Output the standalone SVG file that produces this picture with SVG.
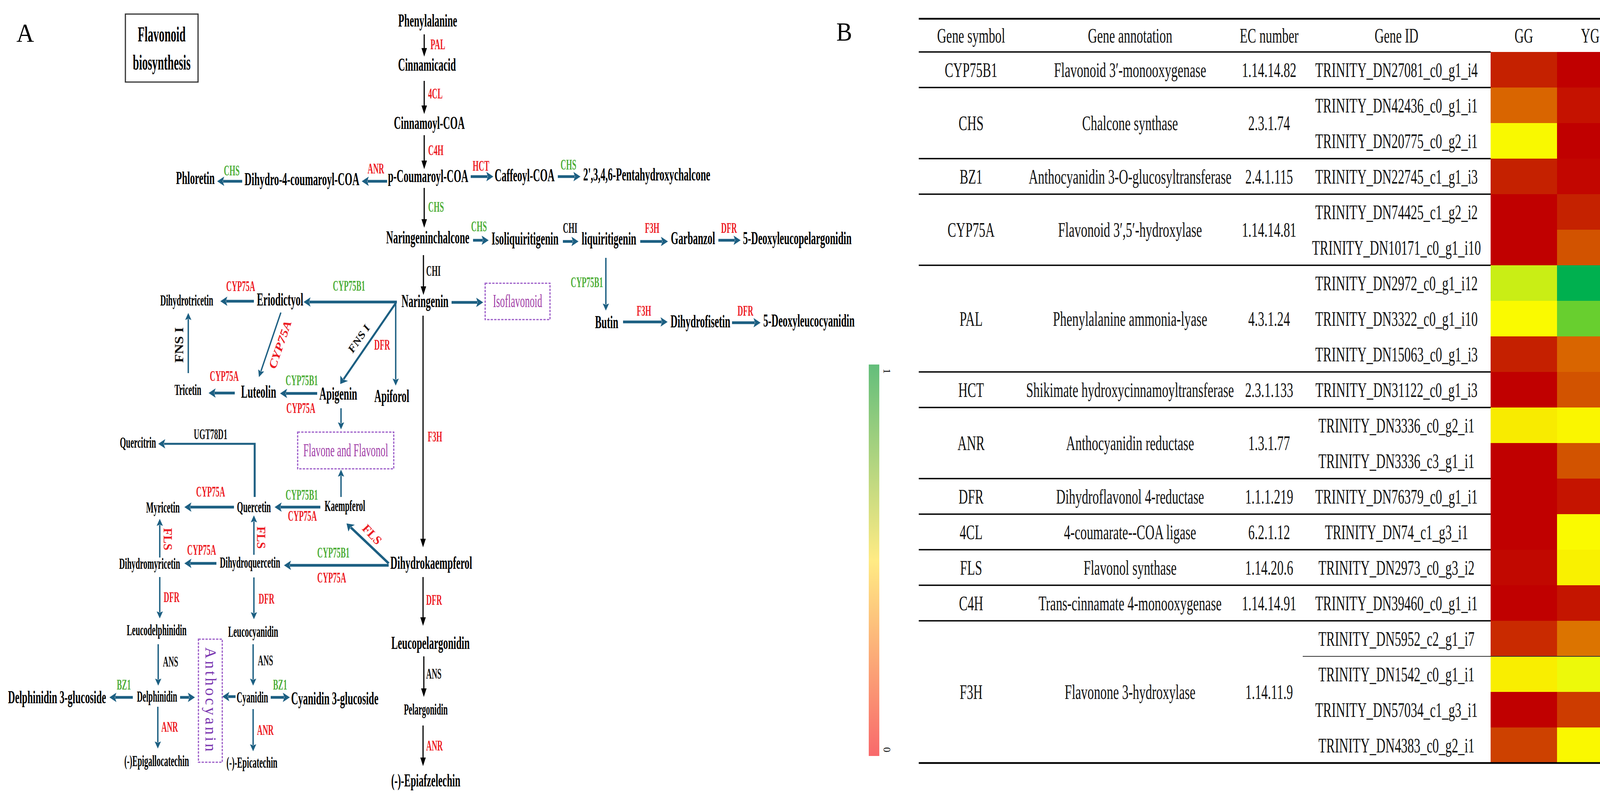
<svg xmlns="http://www.w3.org/2000/svg" width="4179" height="2040" viewBox="0 0 4179 2040">
<style>
text{font-family:"Liberation Serif","Times New Roman",serif}
.cL{font-size:47px;font-weight:bold;text-anchor:middle}
.cS{font-size:40px;font-weight:bold;text-anchor:middle}
.st{text-anchor:start}
.e{font-size:37px;font-weight:bold}
.r{fill:#ed1c24}
.g{fill:#4dae38}
.k{fill:#111}
.pu{font-size:47px;fill:#a03ca6;text-anchor:middle}
.tb{font-size:53px;fill:#111;text-anchor:middle}
.pl{font-size:68px}
.lb{stroke:#000;stroke-width:3;fill:none;marker-end:url(#mb)}
.lt{stroke:#1c5f82;stroke-width:7;fill:none;marker-end:url(#mt)}
.ln{stroke:#1c5f82;stroke-width:3.5;fill:none;marker-end:url(#mn)}
.bx{fill:none;stroke:#9b5cc8;stroke-width:3;stroke-dasharray:6 3}
.tl{stroke:#000;stroke-width:3.5}
</style>
<defs>
<marker id="mb" markerUnits="userSpaceOnUse" markerWidth="22" markerHeight="14" refX="2" refY="7" orient="auto"><path d="M0,0 L22,7 L0,14 Z" fill="#000"/></marker>
<marker id="mt" markerUnits="userSpaceOnUse" markerWidth="18" markerHeight="24" refX="3" refY="12" orient="auto"><path d="M0,0 L18,12 L0,24 L4,12 Z" fill="#1c5f82"/></marker>
<marker id="mn" markerUnits="userSpaceOnUse" markerWidth="18" markerHeight="16" refX="2" refY="8" orient="auto"><path d="M0,0 L18,8 L0,16 L3,8 Z" fill="#1c5f82"/></marker>
<linearGradient id="lg" x1="0" y1="0" x2="0" y2="1"><stop offset="0" stop-color="#63BE7B"/><stop offset="0.5" stop-color="#FFEB84"/><stop offset="1" stop-color="#F8696B"/></linearGradient>
</defs>
<rect width="4179" height="2040" fill="#fff"/>

<!-- Panel A -->
<text class="pl" transform="translate(42,107) scale(.92,1)">A</text>
<g id="title">
<rect x="321" y="36" width="186" height="174" fill="none" stroke="#333" stroke-width="3"/>
<text style="font-size:54px;font-weight:bold;text-anchor:middle" transform="translate(414,106) scale(.53,1)">Flavonoid</text>
<text style="font-size:54px;font-weight:bold;text-anchor:middle" transform="translate(414,178) scale(.53,1)">biosynthesis</text>
</g>

<g id="connectors">
<line class="lb" x1="1086" y1="88" x2="1086" y2="125"/>
<line class="lb" x1="1086" y1="207" x2="1086" y2="272"/>
<line class="lb" x1="1086" y1="346" x2="1086" y2="413"/>
<line class="lb" x1="1086" y1="481" x2="1086" y2="563"/>
<line class="lb" x1="1084" y1="653" x2="1084" y2="735"/>
<line class="lb" x1="1083" y1="808" x2="1083" y2="1381"/>
<line class="lb" x1="1083" y1="1477" x2="1083" y2="1582"/>
<line class="lb" x1="1085" y1="1680" x2="1085" y2="1764"/>
<line class="lb" x1="1083" y1="1857" x2="1083" y2="1941"/>

<line class="lt" x1="991" y1="464" x2="941" y2="464"/>
<line class="lt" x1="620" y1="464" x2="571" y2="464"/>
<line class="lt" x1="1205" y1="452" x2="1248" y2="452"/>
<line class="lt" x1="1428" y1="452" x2="1471" y2="452"/>
<line class="lt" x1="1211" y1="615" x2="1236" y2="615"/>
<line class="lt" x1="1441" y1="618" x2="1466" y2="618"/>
<line class="lt" x1="1639" y1="618" x2="1695" y2="618"/>
<line class="lt" x1="1839" y1="615" x2="1881" y2="615"/>
<line class="lt" x1="1156" y1="774" x2="1222" y2="774"/>
<line class="lt" x1="1595" y1="824" x2="1694" y2="824"/>
<line class="lt" x1="1874" y1="826" x2="1932" y2="826"/>
<line class="lt" x1="1016" y1="773" x2="792" y2="773"/>
<line class="lt" x1="650" y1="771" x2="579" y2="771"/>
<line class="lt" x1="812" y1="1007" x2="732" y2="1007"/>
<line class="lt" x1="601" y1="1006" x2="549" y2="1006"/>
<line class="lt" x1="820" y1="1298" x2="718" y2="1298"/>
<line class="lt" x1="599" y1="1298" x2="487" y2="1298"/>
<line class="lt" x1="995" y1="1447" x2="742" y2="1447"/>
<line class="lt" x1="554" y1="1442" x2="487" y2="1442"/>
<line class="lt" x1="340" y1="1785" x2="295" y2="1785"/>
<line class="lt" x1="461" y1="1785" x2="484" y2="1785"/>
<line class="lt" x1="603" y1="1783" x2="584" y2="1783"/>
<line class="lt" x1="693" y1="1785" x2="727" y2="1785"/>
<path class="lt" style="stroke-width:5" d="M652,1272 V1136 H420"/>
<line class="lt" style="stroke-width:5" x1="1013" y1="776" x2="879.5" y2="970.6"/>
<line class="lt" style="stroke-width:6" x1="995" y1="1442" x2="898" y2="1350"/>

<line class="ln" x1="1551" y1="660" x2="1551" y2="779"/>
<line class="ln" x1="1013" y1="775" x2="1013" y2="971"/>
<line class="ln" x1="482" y1="955" x2="482" y2="817"/>
<line class="ln" x1="719" y1="800" x2="668" y2="950"/>
<line class="ln" x1="873" y1="1045" x2="873" y2="1083"/>
<line class="ln" x1="873" y1="1272" x2="873" y2="1218"/>
<line class="ln" x1="409" y1="1427" x2="409" y2="1344"/>
<line class="ln" x1="650" y1="1420" x2="650" y2="1335"/>
<line class="ln" x1="409" y1="1477" x2="409" y2="1567"/>
<line class="ln" x1="650" y1="1478" x2="650" y2="1569"/>
<line class="ln" x1="405" y1="1649" x2="405" y2="1739"/>
<line class="ln" x1="648" y1="1649" x2="648" y2="1739"/>
<line class="ln" x1="404" y1="1809" x2="404" y2="1900"/>
<line class="ln" x1="648" y1="1815" x2="648" y2="1907"/>
</g>

<g id="edge-labels">
<text class="e r" transform="translate(1102,126) scale(.53,1)">PAL</text>
<text class="e r" transform="translate(1096,252) scale(.53,1)">4CL</text>
<text class="e r" transform="translate(1096,397) scale(.53,1)">C4H</text>
<text class="e r" transform="translate(941,444) scale(.53,1)">ANR</text>
<text class="e g" transform="translate(573,449) scale(.53,1)">CHS</text>
<text class="e r" transform="translate(1210,437) scale(.53,1)">HCT</text>
<text class="e g" transform="translate(1435,434) scale(.53,1)">CHS</text>
<text class="e g" transform="translate(1096,542) scale(.53,1)">CHS</text>
<text class="e g" transform="translate(1206,592) scale(.53,1)">CHS</text>
<text class="e k" transform="translate(1441,596) scale(.53,1)">CHI</text>
<text class="e r" transform="translate(1651,596) scale(.53,1)">F3H</text>
<text class="e r" transform="translate(1846,596) scale(.53,1)">DFR</text>
<text class="e k" transform="translate(1091,706) scale(.53,1)">CHI</text>
<text class="e g" transform="translate(1461,735) scale(.53,1)">CYP75B1</text>
<text class="e r" transform="translate(1630,808) scale(.53,1)">F3H</text>
<text class="e r" transform="translate(1888,808) scale(.53,1)">DFR</text>
<text class="e r" transform="translate(1095,1130) scale(.53,1)">F3H</text>
<text class="e g" transform="translate(852,744) scale(.53,1)">CYP75B1</text>
<text class="e r" transform="translate(579,745) scale(.53,1)">CYP75A</text>
<text class="e r" transform="translate(958,895) scale(.53,1)">DFR</text>
<text class="e r" transform="translate(537,975) scale(.53,1)">CYP75A</text>
<text class="e g" transform="translate(731,986) scale(.53,1)">CYP75B1</text>
<text class="e r" transform="translate(733,1057) scale(.53,1)">CYP75A</text>
<text class="e k" transform="translate(496,1124) scale(.53,1)">UGT78D1</text>
<text class="e r" transform="translate(502,1271) scale(.53,1)">CYP75A</text>
<text class="e g" transform="translate(731,1279) scale(.53,1)">CYP75B1</text>
<text class="e r" transform="translate(737,1333) scale(.53,1)">CYP75A</text>
<text class="e r" transform="translate(479,1420) scale(.53,1)">CYP75A</text>
<text class="e g" transform="translate(812,1427) scale(.53,1)">CYP75B1</text>
<text class="e r" transform="translate(812,1491) scale(.53,1)">CYP75A</text>
<text class="e r" transform="translate(419,1541) scale(.53,1)">DFR</text>
<text class="e r" transform="translate(662,1545) scale(.53,1)">DFR</text>
<text class="e k" transform="translate(417,1706) scale(.53,1)">ANS</text>
<text class="e k" transform="translate(660,1703) scale(.53,1)">ANS</text>
<text class="e g" transform="translate(299,1765) scale(.53,1)">BZ1</text>
<text class="e g" transform="translate(699,1765) scale(.53,1)">BZ1</text>
<text class="e r" transform="translate(413,1873) scale(.53,1)">ANR</text>
<text class="e r" transform="translate(658,1881) scale(.53,1)">ANR</text>
<text class="e r" transform="translate(1091,1548) scale(.53,1)">DFR</text>
<text class="e k" transform="translate(1091,1737) scale(.53,1)">ANS</text>
<text class="e r" transform="translate(1091,1921) scale(.53,1)">ANR</text>
<text class="e k" style="font-size:36px;text-anchor:middle" transform="translate(469,883) rotate(-90) scale(1,.85)">FNS I</text>
<text class="e r" style="font-size:36px;font-style:italic;text-anchor:middle" transform="translate(726,885) rotate(-71) scale(1,.8)">CYP75A</text>
<text class="e k" style="font-size:31px;font-style:italic;text-anchor:middle" transform="translate(926,872) rotate(-55.5) scale(1,.85)">FNS I</text>
<text class="e r" style="font-size:31px;text-anchor:middle" transform="translate(419,1380) rotate(90)">FLS</text>
<text class="e r" style="font-size:31px;text-anchor:middle" transform="translate(658,1376) rotate(90)">FLS</text>
<text class="e r" style="font-size:31px;text-anchor:middle" transform="translate(945,1375) rotate(47)">FLS</text>
</g>

<g id="n-phenylalanine"><text class="cL" transform="translate(1095,68) scale(.53,1)">Phenylalanine</text></g>
<g id="n-cinnamicacid"><text class="cL" transform="translate(1093,181) scale(.53,1)">Cinnamicacid</text></g>
<g id="n-cinnamoylcoa"><text class="cL" transform="translate(1099,330) scale(.53,1)">Cinnamoyl-COA</text></g>
<g id="n-pcoumaroylcoa"><text class="cL" transform="translate(1096,466) scale(.53,1)">p-Coumaroyl-COA</text></g>
<g id="n-dihydro4coumaroylcoa"><text class="cL" transform="translate(773,474) scale(.53,1)">Dihydro-4-coumaroyl-COA</text></g>
<g id="n-phloretin"><text class="cL" transform="translate(500,471) scale(.53,1)">Phloretin</text></g>
<g id="n-caffeoylcoa"><text class="cL" transform="translate(1343,464) scale(.53,1)">Caffeoyl-COA</text></g>
<g id="n-pentahydroxychalcone"><text class="cL st" transform="translate(1493,462) scale(.53,1)">2',3,4,6-Pentahydroxychalcone</text></g>
<g id="n-naringeninchalcone"><text class="cL" transform="translate(1095,623) scale(.53,1)">Naringeninchalcone</text></g>
<g id="n-isoliquiritigenin"><text class="cL" transform="translate(1344,626) scale(.53,1)">Isoliquiritigenin</text></g>
<g id="n-liquiritigenin"><text class="cL" transform="translate(1559,626) scale(.53,1)">liquiritigenin</text></g>
<g id="n-garbanzol"><text class="cL" transform="translate(1774,625) scale(.53,1)">Garbanzol</text></g>
<g id="n-5deoxyleucopelargonidin"><text class="cL st" transform="translate(1902,625) scale(.53,1)">5-Deoxyleucopelargonidin</text></g>
<g id="n-naringenin"><text class="cL" transform="translate(1088,786) scale(.53,1)">Naringenin</text></g>
<g id="n-isoflavonoid"><rect class="bx" x="1242" y="725" width="166" height="93"/><text class="pu" transform="translate(1325,786) scale(.53,1)">Isoflavonoid</text></g>
<g id="n-butin"><text class="cL" transform="translate(1553,840) scale(.53,1)">Butin</text></g>
<g id="n-dihydrofisetin"><text class="cL" transform="translate(1793,838) scale(.53,1)">Dihydrofisetin</text></g>
<g id="n-5deoxyleucocyanidin"><text class="cL st" transform="translate(1954,836) scale(.53,1)">5-Deoxyleucocyanidin</text></g>
<g id="n-eriodictyol"><text class="cL" transform="translate(717,782) scale(.53,1)">Eriodictyol</text></g>
<g id="n-dihydrotricetin"><text class="cS" transform="translate(478,782) scale(.51,1)">Dihydrotricetin</text></g>
<g id="n-tricetin"><text class="cS" transform="translate(481,1011) scale(.51,1)">Tricetin</text></g>
<g id="n-luteolin"><text class="cL" transform="translate(662,1018) scale(.53,1)">Luteolin</text></g>
<g id="n-apigenin"><text class="cL" transform="translate(866,1023) scale(.53,1)">Apigenin</text></g>
<g id="n-apiforol"><text class="cL" transform="translate(1003,1029) scale(.53,1)">Apiforol</text></g>
<g id="n-flavone"><rect class="bx" x="762" y="1106" width="246" height="94"/><text class="pu" transform="translate(885,1168) scale(.53,1)">Flavone and Flavonol</text></g>
<g id="n-quercitrin"><text class="cS" transform="translate(353,1146) scale(.51,1)">Quercitrin</text></g>
<g id="n-myricetin"><text class="cS" transform="translate(417,1312) scale(.51,1)">Myricetin</text></g>
<g id="n-quercetin"><text class="cS" transform="translate(650,1311) scale(.51,1)">Quercetin</text></g>
<g id="n-kaempferol"><text class="cS" transform="translate(883,1308) scale(.51,1)">Kaempferol</text></g>
<g id="n-dihydromyricetin"><text class="cS" transform="translate(383,1456) scale(.51,1)">Dihydromyricetin</text></g>
<g id="n-dihydroquercetin"><text class="cS" transform="translate(640,1453) scale(.51,1)">Dihydroquercetin</text></g>
<g id="n-dihydrokaempferol"><text class="cL" transform="translate(1104,1456) scale(.53,1)">Dihydrokaempferol</text></g>
<g id="n-leucodelphinidin"><text class="cS" transform="translate(401,1626) scale(.51,1)">Leucodelphinidin</text></g>
<g id="n-leucocyanidin"><text class="cS" transform="translate(648,1630) scale(.51,1)">Leucocyanidin</text></g>
<g id="n-leucopelargonidin"><text class="cL" transform="translate(1102,1661) scale(.53,1)">Leucopelargonidin</text></g>
<g id="n-delphinidin"><text class="cS" transform="translate(402,1796) scale(.51,1)">Delphinidin</text></g>
<g id="n-cyanidin"><text class="cS" transform="translate(646,1798) scale(.51,1)">Cyanidin</text></g>
<g id="n-delphinidin3g"><text class="cL" transform="translate(146,1800) scale(.53,1)">Delphinidin 3-glucoside</text></g>
<g id="n-cyanidin3g"><text class="cL" transform="translate(857,1803) scale(.53,1)">Cyanidin 3-glucoside</text></g>
<g id="n-anthocyanin"><rect class="bx" x="508" y="1636" width="61" height="315"/><text style="font-size:40px;fill:#7a35b0;text-anchor:middle;letter-spacing:6px" transform="translate(526,1793) rotate(90)">Anthocyanin</text></g>
<g id="n-pelargonidin"><text class="cS" transform="translate(1090,1829) scale(.51,1)">Pelargonidin</text></g>
<g id="n-epigallocatechin"><text class="cS" transform="translate(401,1961) scale(.51,1)">(-)Epigallocatechin</text></g>
<g id="n-epicatechin"><text class="cS" transform="translate(645,1965) scale(.51,1)">(-)-Epicatechin</text></g>
<g id="n-epiafzelechin"><text class="cL" transform="translate(1090,2013) scale(.53,1)">(-)-Epiafzelechin</text></g>

<!-- Legend -->
<g id="legend">
<rect x="2224" y="933" width="27" height="1002" fill="url(#lg)"/>
<text style="font-size:26px;text-anchor:middle" transform="translate(2262,950) rotate(90)">1</text>
<text style="font-size:26px;text-anchor:middle" transform="translate(2262,1919) rotate(90)">0</text>
</g>

<!-- Panel B -->
<text class="pl" transform="translate(2141,104) scale(.89,1)">B</text>
<g id="table">
<g id="heatmap">
<rect x="3816" y="133" width="170" height="91" fill="#C52100"/><rect x="3986" y="133" width="170" height="91" fill="#C00000"/>
<rect x="3816" y="224" width="170" height="91" fill="#D96500"/><rect x="3986" y="224" width="170" height="91" fill="#C51200"/>
<rect x="3816" y="315" width="170" height="91" fill="#F9F900"/><rect x="3986" y="315" width="170" height="91" fill="#C00000"/>
<rect x="3816" y="406" width="170" height="91" fill="#C52100"/><rect x="3986" y="406" width="170" height="91" fill="#C20600"/>
<rect x="3816" y="497" width="170" height="91" fill="#C00000"/><rect x="3986" y="497" width="170" height="91" fill="#C52200"/>
<rect x="3816" y="588" width="170" height="91" fill="#C00000"/><rect x="3986" y="588" width="170" height="91" fill="#D25300"/>
<rect x="3816" y="679" width="170" height="91" fill="#C9EE15"/><rect x="3986" y="679" width="170" height="91" fill="#00B04F"/>
<rect x="3816" y="770" width="170" height="91" fill="#FAFA00"/><rect x="3986" y="770" width="170" height="91" fill="#68CF2F"/>
<rect x="3816" y="861" width="170" height="91" fill="#C52000"/><rect x="3986" y="861" width="170" height="91" fill="#D96500"/>
<rect x="3816" y="952" width="170" height="91" fill="#C00000"/><rect x="3986" y="952" width="170" height="91" fill="#D25300"/>
<rect x="3816" y="1043" width="170" height="91" fill="#F8EB00"/><rect x="3986" y="1043" width="170" height="91" fill="#FAF600"/>
<rect x="3816" y="1134" width="170" height="91" fill="#C00000"/><rect x="3986" y="1134" width="170" height="91" fill="#D25300"/>
<rect x="3816" y="1225" width="170" height="91" fill="#C00000"/><rect x="3986" y="1225" width="170" height="91" fill="#C51400"/>
<rect x="3816" y="1316" width="170" height="91" fill="#C00000"/><rect x="3986" y="1316" width="170" height="91" fill="#FAFA00"/>
<rect x="3816" y="1407" width="170" height="91" fill="#C10800"/><rect x="3986" y="1407" width="170" height="91" fill="#F9F100"/>
<rect x="3816" y="1498" width="170" height="91" fill="#C00000"/><rect x="3986" y="1498" width="170" height="91" fill="#C41500"/>
<rect x="3816" y="1589" width="170" height="91" fill="#C92A00"/><rect x="3986" y="1589" width="170" height="91" fill="#DC7400"/>
<rect x="3816" y="1680" width="170" height="91" fill="#F9EE00"/><rect x="3986" y="1680" width="170" height="91" fill="#EDF90A"/>
<rect x="3816" y="1771" width="170" height="91" fill="#C00000"/><rect x="3986" y="1771" width="170" height="91" fill="#CD3C00"/>
<rect x="3816" y="1862" width="170" height="91" fill="#CD4100"/><rect x="3986" y="1862" width="170" height="91" fill="#FAF800"/>
</g>
<g id="table-lines">
<line class="tl" style="stroke-width:4.5" x1="2352" y1="48" x2="4156" y2="48"/>
<line class="tl" x1="2352" y1="133" x2="3816" y2="133"/>
<line class="tl" x1="2352" y1="224" x2="3816" y2="224"/>
<line class="tl" x1="2352" y1="406" x2="3816" y2="406"/>
<line class="tl" x1="2352" y1="497" x2="3816" y2="497"/>
<line class="tl" x1="2352" y1="679" x2="3816" y2="679"/>
<line class="tl" x1="2352" y1="952" x2="3816" y2="952"/>
<line class="tl" x1="2352" y1="1043" x2="3816" y2="1043"/>
<line class="tl" x1="2352" y1="1225" x2="3816" y2="1225"/>
<line class="tl" x1="2352" y1="1316" x2="3816" y2="1316"/>
<line class="tl" x1="2352" y1="1407" x2="3816" y2="1407"/>
<line class="tl" x1="2352" y1="1498" x2="3816" y2="1498"/>
<line class="tl" x1="2352" y1="1589" x2="3816" y2="1589"/>
<line style="stroke:#333;stroke-width:2" x1="3335" y1="1680" x2="4156" y2="1680"/>
<line class="tl" style="stroke-width:4.5" x1="2352" y1="1953" x2="4156" y2="1953"/>
</g>
<g id="table-header">
<text class="tb" transform="translate(2486,109) scale(.62,1)">Gene symbol</text>
<text class="tb" transform="translate(2893,109) scale(.62,1)">Gene annotation</text>
<text class="tb" transform="translate(3249,109) scale(.62,1)">EC number</text>
<text class="tb" transform="translate(3575,109) scale(.62,1)">Gene ID</text>
<text class="tb" transform="translate(3901,109) scale(.62,1)">GG</text>
<text class="tb" transform="translate(4071,109) scale(.62,1)">YG</text>
</g>
<g id="row-CYP75B1">
<text class="tb" transform="translate(2486,196.5) scale(.62,1)">CYP75B1</text>
<text class="tb" transform="translate(2893,196.5) scale(.62,1)">Flavonoid 3′-monooxygenase</text>
<text class="tb" transform="translate(3249,196.5) scale(.62,1)">1.14.14.82</text>
<text class="tb" transform="translate(3575,196.5) scale(.62,1)">TRINITY_DN27081_c0_g1_i4</text>
</g>
<g id="row-CHS">
<text class="tb" transform="translate(2486,333) scale(.62,1)">CHS</text>
<text class="tb" transform="translate(2893,333) scale(.62,1)">Chalcone synthase</text>
<text class="tb" transform="translate(3249,333) scale(.62,1)">2.3.1.74</text>
<text class="tb" transform="translate(3575,287.5) scale(.62,1)">TRINITY_DN42436_c0_g1_i1</text>
<text class="tb" transform="translate(3575,378.5) scale(.62,1)">TRINITY_DN20775_c0_g2_i1</text>
</g>
<g id="row-BZ1">
<text class="tb" transform="translate(2486,469.5) scale(.62,1)">BZ1</text>
<text class="tb" transform="translate(2893,469.5) scale(.62,1)">Anthocyanidin 3-O-glucosyltransferase</text>
<text class="tb" transform="translate(3249,469.5) scale(.62,1)">2.4.1.115</text>
<text class="tb" transform="translate(3575,469.5) scale(.62,1)">TRINITY_DN22745_c1_g1_i3</text>
</g>
<g id="row-CYP75A">
<text class="tb" transform="translate(2486,606) scale(.62,1)">CYP75A</text>
<text class="tb" transform="translate(2893,606) scale(.62,1)">Flavonoid 3′,5′-hydroxylase</text>
<text class="tb" transform="translate(3249,606) scale(.62,1)">1.14.14.81</text>
<text class="tb" transform="translate(3575,560.5) scale(.62,1)">TRINITY_DN74425_c1_g2_i2</text>
<text class="tb" transform="translate(3575,651.5) scale(.62,1)">TRINITY_DN10171_c0_g1_i10</text>
</g>
<g id="row-PAL">
<text class="tb" transform="translate(2486,833.5) scale(.62,1)">PAL</text>
<text class="tb" transform="translate(2893,833.5) scale(.62,1)">Phenylalanine ammonia-lyase</text>
<text class="tb" transform="translate(3249,833.5) scale(.62,1)">4.3.1.24</text>
<text class="tb" transform="translate(3575,742.5) scale(.62,1)">TRINITY_DN2972_c0_g1_i12</text>
<text class="tb" transform="translate(3575,833.5) scale(.62,1)">TRINITY_DN3322_c0_g1_i10</text>
<text class="tb" transform="translate(3575,924.5) scale(.62,1)">TRINITY_DN15063_c0_g1_i3</text>
</g>
<g id="row-HCT">
<text class="tb" transform="translate(2486,1015.5) scale(.62,1)">HCT</text>
<text class="tb" transform="translate(2893,1015.5) scale(.62,1)">Shikimate hydroxycinnamoyltransferase</text>
<text class="tb" transform="translate(3249,1015.5) scale(.62,1)">2.3.1.133</text>
<text class="tb" transform="translate(3575,1015.5) scale(.62,1)">TRINITY_DN31122_c0_g1_i3</text>
</g>
<g id="row-ANR">
<text class="tb" transform="translate(2486,1152) scale(.62,1)">ANR</text>
<text class="tb" transform="translate(2893,1152) scale(.62,1)">Anthocyanidin reductase</text>
<text class="tb" transform="translate(3249,1152) scale(.62,1)">1.3.1.77</text>
<text class="tb" transform="translate(3575,1106.5) scale(.62,1)">TRINITY_DN3336_c0_g2_i1</text>
<text class="tb" transform="translate(3575,1197.5) scale(.62,1)">TRINITY_DN3336_c3_g1_i1</text>
</g>
<g id="row-DFR">
<text class="tb" transform="translate(2486,1288.5) scale(.62,1)">DFR</text>
<text class="tb" transform="translate(2893,1288.5) scale(.62,1)">Dihydroflavonol 4-reductase</text>
<text class="tb" transform="translate(3249,1288.5) scale(.62,1)">1.1.1.219</text>
<text class="tb" transform="translate(3575,1288.5) scale(.62,1)">TRINITY_DN76379_c0_g1_i1</text>
</g>
<g id="row-4CL">
<text class="tb" transform="translate(2486,1379.5) scale(.62,1)">4CL</text>
<text class="tb" transform="translate(2893,1379.5) scale(.62,1)">4-coumarate--COA ligase</text>
<text class="tb" transform="translate(3249,1379.5) scale(.62,1)">6.2.1.12</text>
<text class="tb" transform="translate(3575,1379.5) scale(.62,1)">TRINITY_DN74_c1_g3_i1</text>
</g>
<g id="row-FLS">
<text class="tb" transform="translate(2486,1470.5) scale(.62,1)">FLS</text>
<text class="tb" transform="translate(2893,1470.5) scale(.62,1)">Flavonol synthase</text>
<text class="tb" transform="translate(3249,1470.5) scale(.62,1)">1.14.20.6</text>
<text class="tb" transform="translate(3575,1470.5) scale(.62,1)">TRINITY_DN2973_c0_g3_i2</text>
</g>
<g id="row-C4H">
<text class="tb" transform="translate(2486,1561.5) scale(.62,1)">C4H</text>
<text class="tb" transform="translate(2893,1561.5) scale(.62,1)">Trans-cinnamate 4-monooxygenase</text>
<text class="tb" transform="translate(3249,1561.5) scale(.62,1)">1.14.14.91</text>
<text class="tb" transform="translate(3575,1561.5) scale(.62,1)">TRINITY_DN39460_c0_g1_i1</text>
</g>
<g id="row-F3H">
<text class="tb" transform="translate(2486,1789) scale(.62,1)">F3H</text>
<text class="tb" transform="translate(2893,1789) scale(.62,1)">Flavonone 3-hydroxylase</text>
<text class="tb" transform="translate(3249,1789) scale(.62,1)">1.14.11.9</text>
<text class="tb" transform="translate(3575,1652.5) scale(.62,1)">TRINITY_DN5952_c2_g1_i7</text>
<text class="tb" transform="translate(3575,1743.5) scale(.62,1)">TRINITY_DN1542_c0_g1_i1</text>
<text class="tb" transform="translate(3575,1834.5) scale(.62,1)">TRINITY_DN57034_c1_g3_i1</text>
<text class="tb" transform="translate(3575,1925.5) scale(.62,1)">TRINITY_DN4383_c0_g2_i1</text>
</g>
</g>
</svg>
